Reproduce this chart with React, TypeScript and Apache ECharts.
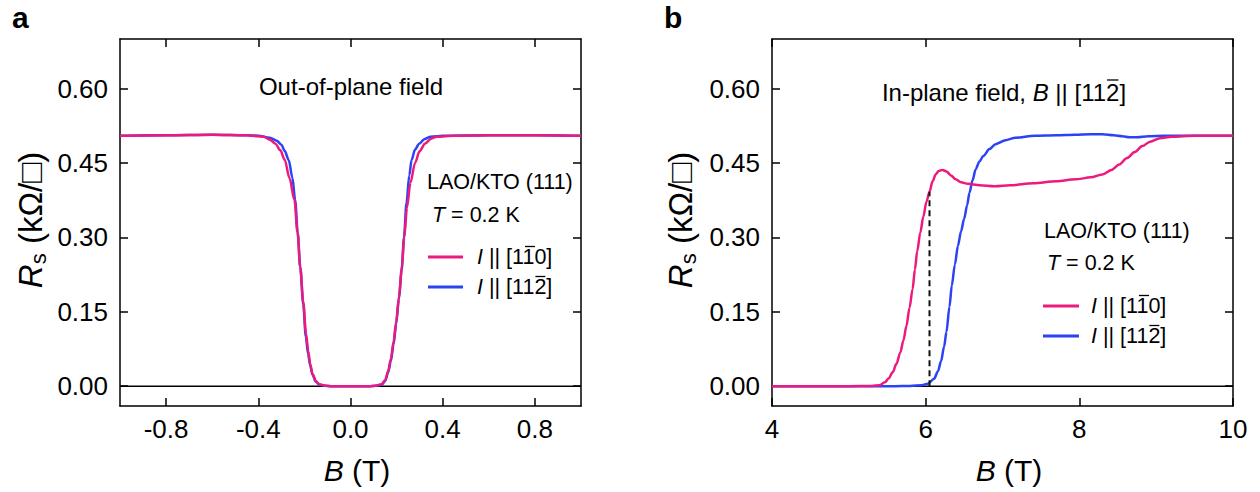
import { useEffect, useRef } from "react";
import * as echarts from "echarts";

const FONT = '"Liberation Sans", Arial, Helvetica, sans-serif';
const PINK = "#EC1A7D";
const BLUE = "#2C42F5";
const INK = "#000000";

// Panel a: out-of-plane field sweep, current along [1-10]
const outB_110 = [-1.0, -0.8, -0.6, -0.45, -0.4, -0.376, -0.35, -0.326, -0.305, -0.285, -0.265, -0.243, -0.23, -0.218, -0.205, -0.193, -0.183, -0.175, -0.165, -0.15, -0.135, -0.11, -0.08, 0.0, 0.08, 0.11, 0.135, 0.15, 0.163, 0.175, 0.187, 0.198, 0.21, 0.223, 0.233, 0.245, 0.26, 0.28, 0.3, 0.323, 0.35, 0.373, 0.45, 0.6, 0.8, 1.0];
const outR_110 = [0.505, 0.506, 0.507, 0.506, 0.504, 0.503, 0.497, 0.489, 0.476, 0.456, 0.42, 0.375, 0.31, 0.24, 0.17, 0.106, 0.07, 0.045, 0.025, 0.01, 0.004, 0.001, 0.0, 0.0, 0.0, 0.001, 0.004, 0.012, 0.03, 0.055, 0.09, 0.13, 0.18, 0.24, 0.3, 0.36, 0.41, 0.45, 0.474, 0.489, 0.499, 0.503, 0.505, 0.506, 0.506, 0.505];

// Panel a: out-of-plane field sweep, current along [11-2]
const outB_112 = [-1.0, -0.8, -0.6, -0.45, -0.4, -0.35, -0.32, -0.3, -0.285, -0.268, -0.252, -0.24, -0.229, -0.218, -0.205, -0.194, -0.184, -0.175, -0.165, -0.15, -0.135, -0.11, -0.08, 0.0, 0.08, 0.11, 0.135, 0.15, 0.163, 0.175, 0.187, 0.198, 0.21, 0.222, 0.232, 0.243, 0.255, 0.265, 0.28, 0.298, 0.32, 0.348, 0.4, 0.6, 0.8, 1.0];
const outR_112 = [0.505, 0.506, 0.507, 0.506, 0.505, 0.501, 0.495, 0.487, 0.474, 0.456, 0.42, 0.375, 0.31, 0.24, 0.165, 0.1, 0.065, 0.042, 0.023, 0.009, 0.003, 0.001, 0.0, 0.0, 0.0, 0.001, 0.003, 0.01, 0.027, 0.05, 0.085, 0.125, 0.175, 0.235, 0.3, 0.37, 0.425, 0.456, 0.477, 0.489, 0.498, 0.503, 0.505, 0.506, 0.506, 0.505];

// Panel b: in-plane field (B || [11-2]), current along [1-10]
const inB_110 = [4.0, 4.5, 5.0, 5.3, 5.4, 5.47, 5.52, 5.57, 5.62, 5.67, 5.71, 5.75, 5.79, 5.83, 5.86, 5.89, 5.93, 5.97, 6.01, 6.05, 6.09, 6.13, 6.17, 6.22, 6.27, 6.33, 6.39, 6.46, 6.55, 6.7, 6.9, 7.1, 7.4, 7.7, 7.95, 8.15, 8.3, 8.42, 8.52, 8.62, 8.72, 8.82, 8.92, 9.05, 9.2, 9.5, 10.0];
const inR_110 = [0, 0, 0, 0.0005, 0.002, 0.008, 0.016, 0.028, 0.045, 0.068, 0.092, 0.122, 0.158, 0.196, 0.235, 0.272, 0.31, 0.342, 0.372, 0.392, 0.413, 0.427, 0.434, 0.436, 0.433, 0.425, 0.417, 0.411, 0.408, 0.405, 0.403, 0.405, 0.409, 0.413, 0.417, 0.421, 0.427, 0.436, 0.447, 0.46, 0.472, 0.484, 0.493, 0.5, 0.503, 0.505, 0.505];

// Panel b: in-plane field (B || [11-2]), current along [11-2]
const inB_112 = [4.0, 5.0, 5.6, 5.8, 5.95, 6.03, 6.11, 6.16, 6.2, 6.24, 6.27, 6.31, 6.34, 6.38, 6.42, 6.46, 6.5, 6.54, 6.57, 6.61, 6.65, 6.7, 6.75, 6.83, 6.91, 7.04, 7.17, 7.42, 7.7, 7.94, 8.15, 8.3, 8.45, 8.56, 8.65, 8.75, 8.9, 9.1, 10.0];
const inR_112 = [0, 0, 0, 0.0005, 0.002, 0.005, 0.015, 0.03, 0.05, 0.08, 0.109, 0.16, 0.203, 0.245, 0.283, 0.312, 0.337, 0.365, 0.39, 0.415, 0.437, 0.453, 0.464, 0.478, 0.488, 0.496, 0.501, 0.505, 0.506, 0.507, 0.508, 0.508, 0.506, 0.504, 0.502, 0.502, 0.504, 0.505, 0.505];

// Vertical dashed marker in panel b
const markerB = [6.05, 6.05];
const markerR = [0, 0.392];

// Axis ranges and tick values
const outRange = [-1, 1];
const inRange = [4, 10];
const resRange = [-0.04, 0.7];
const outTicks = [-0.8, -0.4, 0, 0.4, 0.8];
const inTicks = [4, 6, 8, 10];
const resTicks = [0, 0.15, 0.3, 0.45, 0.6];

const pairs = (xs: number[], ys: number[]) => xs.map((x, i) => [x, ys[i]]);

const GRIDS = [
  { left: 120, top: 39, width: 461, height: 367 },
  { left: 772, top: 39, width: 461, height: 367 },
];

const TICK_FONT = 26;
const TITLE_FONT = 30;
const YTITLE_FONT = 33;
const NOTE_FONT = 24;
const LEGEND_FONT = 21.5;

export default function App() {
  const ref = useRef<HTMLDivElement>(null);

  useEffect(() => {
    const chart = echarts.init(ref.current!, null, { renderer: "svg" });

    const ctx = document.createElement("canvas").getContext("2d")!;
    const tw = (s: string, size: number, italic = false) => {
      ctx.font = `${italic ? "italic " : ""}${size}px ${FONT}`;
      return ctx.measureText(s).width;
    };

    const richFor = (size: number) => ({
      i: { fontStyle: "italic", fontSize: size, fontFamily: FONT, fill: INK },
      n: { fontSize: size, fontFamily: FONT, fill: INK },
    });

    const text = (x: number, y: number, str: string, size: number, align = "left", extra: any = {}) => ({
      type: "text",
      x,
      y,
      silent: true,
      ...extra,
      style: {
        text: str,
        fontSize: size,
        fontFamily: FONT,
        fill: INK,
        align,
        verticalAlign: "middle",
        rich: richFor(size),
        ...(extra.style || {}),
      },
    });

    const bar = (x: number, y: number, w: number) => ({
      type: "line",
      silent: true,
      shape: { x1: x + 1, y1: y, x2: x + w - 1, y2: y },
      style: { stroke: INK, lineWidth: 1.3 },
    });

    const graphics: any[] = [];

    // panel letters
    graphics.push(text(12, 17.5, "a", 30, "left", { style: { fontWeight: "bold" } }));
    graphics.push(text(664, 17.5, "b", 30, "left", { style: { fontWeight: "bold" } }));

    // axis titles
    const yTitle = (x: number, y: number) => ({
      type: "text",
      x,
      y,
      rotation: Math.PI / 2,
      silent: true,
      style: {
        text: "{i|R}{s|s}{n| (kΩ/□)}",
        fontSize: YTITLE_FONT,
        fontFamily: FONT,
        fill: INK,
        align: "center",
        verticalAlign: "middle",
        rich: {
          i: { fontStyle: "italic", fontSize: YTITLE_FONT, fontFamily: FONT, fill: INK, lineHeight: 38 },
          n: { fontSize: YTITLE_FONT, fontFamily: FONT, fill: INK, lineHeight: 38 },
          s: { fontSize: 22, fontFamily: FONT, fill: INK, lineHeight: 19, verticalAlign: "bottom" },
        },
      },
    });
    graphics.push(yTitle(30, 220));
    graphics.push(yTitle(680, 220));
    graphics.push(text(357, 470, "{i|B}{n| (T)}", TITLE_FONT, "center"));
    graphics.push(text(1009, 470, "{i|B}{n| (T)}", TITLE_FONT, "center"));

    // panel notes
    graphics.push(text(351, 86, "Out-of-plane field", NOTE_FONT, "center"));
    {
      const a = "In-plane field, ";
      const c = " || [112]";
      const total = tw(a, NOTE_FONT) + tw("B", NOTE_FONT, true) + tw(c, NOTE_FONT);
      const x0 = 1004 - total / 2;
      const y = 92;
      graphics.push(text(x0, y, `{n|${a}}{i|B}{n|${c}}`, NOTE_FONT));
      const pre = tw(a, NOTE_FONT) + tw("B", NOTE_FONT, true) + tw(" || [11", NOTE_FONT);
      graphics.push(bar(x0 + pre, y - 12, tw("2", NOTE_FONT)));
    }

    // sample / legend blocks
    const legendBlock = (
      sx: number, sy: number, tx: number, ty: number,
      lx: number, ly1: number, ly2: number, lineLen: number, labelX: number
    ) => {
      graphics.push(text(sx, sy, "LAO/KTO (111)", LEGEND_FONT));
      graphics.push(text(tx, ty, "{i|T}{n| = 0.2 K}", LEGEND_FONT));
      const rows = [
        { y: ly1, color: PINK, label: " || [110]", prefix: " || [1", barChar: "1" },
        { y: ly2, color: BLUE, label: " || [112]", prefix: " || [11", barChar: "2" },
      ];
      rows.forEach((r) => {
        graphics.push({
          type: "line",
          silent: true,
          shape: { x1: lx, y1: r.y, x2: lx + lineLen, y2: r.y },
          style: { stroke: r.color, lineWidth: 3 },
        });
        graphics.push(text(labelX, r.y, `{i|I}{n|${r.label}}`, LEGEND_FONT));
        const pre = tw("I", LEGEND_FONT, true) + tw(r.prefix, LEGEND_FONT);
        graphics.push(bar(labelX + pre, r.y - 10.5, tw(r.barChar, LEGEND_FONT)));
      });
    };
    legendBlock(427, 182, 432, 215, 428, 257, 287, 35, 477);
    legendBlock(1044, 231, 1047, 263, 1043, 306, 336, 36, 1091);

    const axisLine = { show: true, onZero: false, lineStyle: { color: INK, width: 1.5 } };
    const tickStyle = (values: number[]) => ({
      show: true,
      inside: true,
      length: 8,
      customValues: values,
      lineStyle: { color: INK, width: 1.5 },
    });

    const xAxisPair = (gridIndex: number, range: number[], ticks: number[], fmt: (v: number) => string) => [
      {
        type: "value",
        gridIndex,
        position: "bottom",
        min: range[0],
        max: range[1],
        axisLine,
        axisTick: tickStyle(ticks),
        axisLabel: {
          customValues: ticks,
          formatter: fmt,
          color: INK,
          fontSize: TICK_FONT,
          fontFamily: FONT,
          margin: 10,
        },
        splitLine: { show: false },
      },
      {
        type: "value",
        gridIndex,
        position: "top",
        min: range[0],
        max: range[1],
        axisLine,
        axisTick: tickStyle(ticks),
        axisLabel: { show: false },
        splitLine: { show: false },
      },
    ];

    const yAxisPair = (gridIndex: number) => [
      {
        type: "value",
        gridIndex,
        position: "left",
        min: resRange[0],
        max: resRange[1],
        axisLine,
        axisTick: tickStyle(resTicks),
        axisLabel: {
          customValues: resTicks,
          formatter: (v: number) => v.toFixed(2),
          color: INK,
          fontSize: TICK_FONT,
          fontFamily: FONT,
          margin: 12,
        },
        splitLine: { show: false },
      },
      {
        type: "value",
        gridIndex,
        position: "right",
        min: resRange[0],
        max: resRange[1],
        axisLine,
        axisTick: tickStyle(resTicks),
        axisLabel: { show: false },
        splitLine: { show: false },
      },
    ];

    const curve = (axisIdx: number, xs: number[], ys: number[], color: string, z: number) => ({
      type: "line",
      xAxisIndex: axisIdx,
      yAxisIndex: axisIdx,
      data: pairs(xs, ys),
      showSymbol: false,
      symbol: "none",
      smooth: 0.3,
      smoothMonotone: "x",
      lineStyle: { color, width: 2.5 },
      z,
      silent: true,
    });

    const zeroLine = (axisIdx: number, range: number[]) => ({
      type: "line",
      xAxisIndex: axisIdx,
      yAxisIndex: axisIdx,
      data: [[range[0], 0], [range[1], 0]],
      showSymbol: false,
      symbol: "none",
      lineStyle: { color: INK, width: 1.5 },
      z: 1,
      silent: true,
    });

    const option: any = {
      animation: false,
      backgroundColor: "#ffffff",
      grid: GRIDS,
      xAxis: [
        ...xAxisPair(0, outRange, outTicks, (v: number) => v.toFixed(1)),
        ...xAxisPair(1, inRange, inTicks, (v: number) => String(v)),
      ],
      yAxis: [...yAxisPair(0), ...yAxisPair(1)],
      series: [
        zeroLine(0, outRange),
        curve(0, outB_112, outR_112, BLUE, 2),
        curve(0, outB_110, outR_110, PINK, 3),
        zeroLine(2, inRange),
        curve(2, inB_112, inR_112, BLUE, 2),
        curve(2, inB_110, inR_110, PINK, 3),
        {
          type: "line",
          xAxisIndex: 2,
          yAxisIndex: 2,
          data: pairs(markerB, markerR),
          showSymbol: false,
          symbol: "none",
          lineStyle: { color: "#111111", width: 2, type: [6, 4] },
          z: 4,
          silent: true,
        },
      ],
      graphic: graphics,
    };

    chart.setOption(option);
    return () => chart.dispose();
  }, []);

  return (
    <div
      ref={ref}
      style={{ position: "fixed", left: 0, top: 0, width: 1260, height: 492, background: "#fff" }}
    />
  );
}
